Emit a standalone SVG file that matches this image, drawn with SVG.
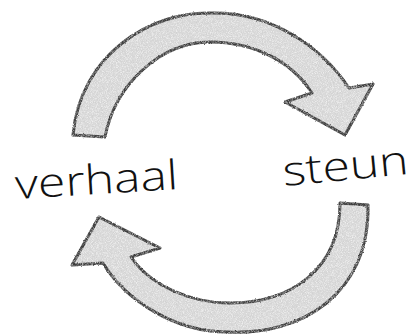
<svg xmlns="http://www.w3.org/2000/svg" width="416" height="335" viewBox="0 0 416 335">
  <style>
    .arrow { fill: #dcdcdc; stroke: #262626; stroke-width: 3; stroke-linejoin: round; filter: url(#rough); }
    .label { font-family: "Open Sans", "DejaVu Sans", sans-serif; font-size: 41px; font-weight: 300; fill: #111; }
  </style>
  <defs>
    <filter id="rough" x="-5%" y="-5%" width="110%" height="110%">
      <feTurbulence type="fractalNoise" baseFrequency="0.9" numOctaves="2" seed="4" result="noise"/>
      <feDisplacementMap in="SourceGraphic" in2="noise" scale="2.2" xChannelSelector="R" yChannelSelector="G" result="disp"/>
      <feTurbulence type="fractalNoise" baseFrequency="1.2" numOctaves="2" seed="9" result="grain"/>
      <feColorMatrix in="grain" type="matrix" values="0 0 0 0 0.55  0 0 0 0 0.55  0 0 0 0 0.55  0 0 0 -1.4 0.75" result="grainA"/>
      <feComposite in="grainA" in2="disp" operator="in" result="grainIn"/>
      <feColorMatrix in="grain" type="matrix" values="0 0 0 0 1  0 0 0 0 1  0 0 0 0 1  0 0 0 1.6 -0.8" result="lightA"/>
      <feComposite in="lightA" in2="disp" operator="in" result="lightIn"/>
      <feMerge>
        <feMergeNode in="disp"/>
        <feMergeNode in="grainIn"/>
        <feMergeNode in="lightIn"/>
      </feMerge>
    </filter>
  </defs>
  <rect width="416" height="335" fill="#ffffff"/>
  <g id="connectors">
    <path id="arrow-top" class="arrow" d="M73,135 C80,55 150,11 212,13 C270,12 320,45 349,88 L373,84 L345,135 L285,102 L312,93 C292,62 255,42 210,42 C160,42 115,85 105,137 Z"/>
    <path id="arrow-bottom" class="arrow" d="M368,205 C370,295 300,336 227,332 C175,332 125,300 103,263 L72,265 L99,217 L160,248 L131,257 C150,285 190,303 230,303 C290,303 340,270 340,203 Z"/>
  </g>
  <g id="node-verhaal">
    <text class="label" x="16" y="199" textLength="163" lengthAdjust="spacingAndGlyphs" transform="rotate(-3.5 16 199)">verhaal</text>
  </g>
  <g id="node-steun">
    <text class="label" x="284" y="186" textLength="126" lengthAdjust="spacingAndGlyphs" transform="rotate(-5.5 284 186)">steun</text>
  </g>
</svg>
